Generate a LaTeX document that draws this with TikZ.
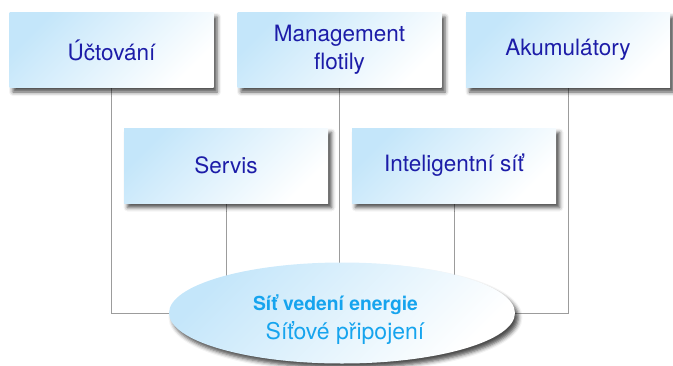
\documentclass[tikz,border=0pt]{standalone}
\usepackage{fontspec}
\setmainfont{TeX Gyre Heros}
\usetikzlibrary{shapes.geometric,shadows.blur,backgrounds}
\definecolor{boxtext}{HTML}{1C1CA8}
\definecolor{boxblue}{HTML}{C4E6FA}
\definecolor{ringtext}{HTML}{16A4EE}
\definecolor{linegray}{HTML}{9C9C9C}
\begin{document}
\begin{tikzpicture}[x=1pt,y=-1pt,
  shadowed/.style={blur shadow={shadow xshift=3.5pt,shadow yshift=-4.5pt,shadow blur radius=4pt,shadow opacity=70}},
  boxfill/.style={left color=boxblue,right color=white,shading angle=45},
  topbox/.style={rectangle,minimum width=204pt,minimum height=75pt,inner sep=0pt,boxfill,shadowed,
    font=\fontsize{22.5}{28}\selectfont,text=boxtext,align=center},
  ring/.style={ellipse,minimum width=346pt,minimum height=101pt,inner sep=0pt,boxfill,shadowed},
  conn/.style={draw=linegray,line width=0.9pt},
  ringbold/.style={font=\bfseries\fontsize{19.3}{21}\selectfont,text=ringtext},
  ringreg/.style={font=\fontsize{23}{25}\selectfont,text=ringtext}]
\useasboundingbox (0,0) rectangle (673,365);
\node[topbox] (u) at (111.5,50) {Účtování};
\node[topbox] (m) at (339.5,50) {Management\\flotily};
\node[topbox] (a) at (568,50) {Akumulátory};
\node[topbox] (s) at (226,165.5) {Servis};
\node[topbox] (i) at (454,165.5) {Inteligentní síť};
\node[ring] (e) at (342,313) {};
\node[ringbold] (l1) at (335.5,305) {Síť vedení energie};
\node[ringreg] (l2) at (345,333) {Síťové připojení};
\begin{pgfonlayer}{background}
\draw[conn] (u.south) |- (e.west);
\draw[conn] (a.south) |- (e.east);
\draw[conn] (m.south) -- (m.south |- e.center);
\draw[conn] (s.south) -- (s.south |- e.center);
\draw[conn] (i.south) -- (i.south |- e.center);
\end{pgfonlayer}
\end{tikzpicture}
\end{document}
